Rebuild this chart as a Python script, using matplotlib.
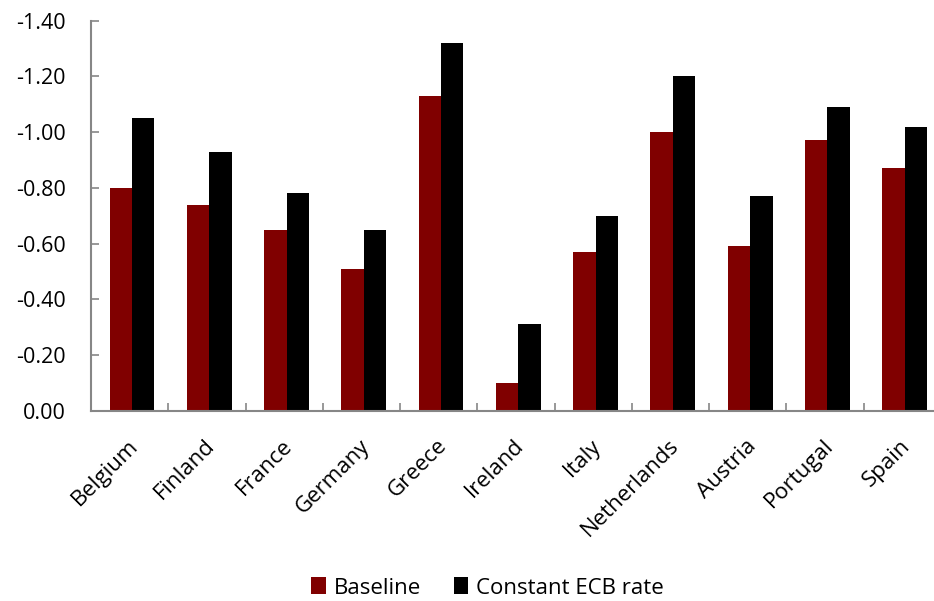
import matplotlib
matplotlib.use("Agg")
import matplotlib.pyplot as plt
import matplotlib.transforms as mtransforms
import numpy as np
from matplotlib.ticker import FixedLocator, FuncFormatter

countries = ["Belgium", "Finland", "France", "Germany", "Greece", "Ireland",
             "Italy", "Netherlands", "Austria", "Portugal", "Spain"]
baseline = [-0.80, -0.74, -0.65, -0.51, -1.13, -0.10, -0.57, -1.00, -0.59, -0.97, -0.87]
constant_ecb = [-1.05, -0.93, -0.78, -0.65, -1.32, -0.31, -0.70, -1.20, -0.77, -1.09, -1.02]
yticks = [0.0, -0.2, -0.4, -0.6, -0.8, -1.0, -1.2, -1.4]

plt.rcParams['font.family'] = ['Open Sans', 'DejaVu Sans']

fig = plt.figure(figsize=(9.34, 6.01), dpi=100)
W, H = 934, 601
ax = fig.add_axes([91 / W, 1 - 410.7 / H, 850 / W, (410.7 - 20.7) / H])

x = np.arange(len(countries))
bw = 0.29
ax.bar(x - bw / 2 + 0.03, baseline, width=bw, color="#800000", label="Baseline", zorder=2)
ax.bar(x + bw / 2 + 0.03, constant_ecb, width=bw, color="#000000", label="Constant ECB rate", zorder=2)

ax.set_xlim(-0.5, len(countries) - 0.5)
ax.set_ylim(0, -1.4)

ax.yaxis.set_major_locator(FixedLocator(yticks))
ax.yaxis.set_major_formatter(FuncFormatter(lambda v, p: f"{v:.2f}" if abs(v) > 1e-9 else "0.00"))
ax.tick_params(axis='y', direction='in', length=6, width=1.2, color="#868686",
               labelsize=15.5, pad=18)

ax.set_xticks(x)
ax.set_xticklabels(countries, rotation=45, ha='right', va='center', rotation_mode='anchor',
                   fontsize=16)
ax.tick_params(axis='x', which='major', length=0, pad=23)
offset = mtransforms.ScaledTranslation(5 / 100, 0, fig.dpi_scale_trans)
for lab in ax.get_xticklabels():
    lab.set_transform(lab.get_transform() + offset)
ax.set_xticks(np.arange(len(countries) - 1) + 0.5, minor=True)
ax.tick_params(axis='x', which='minor', direction='in', length=6, width=1.2, color="#868686")

for s in ['top', 'right']:
    ax.spines[s].set_visible(False)
for s in ['left', 'bottom']:
    ax.spines[s].set_color("#868686")
    ax.spines[s].set_linewidth(1.5)

fig.legend(loc='center', bbox_to_anchor=(0.522, 1 - 588 / H), ncol=2, frameon=False,
           fontsize=16, handlelength=0.65, handleheight=0.8, handletextpad=0.35,
           columnspacing=1.5)

fig.savefig("out.png", dpi=100)
